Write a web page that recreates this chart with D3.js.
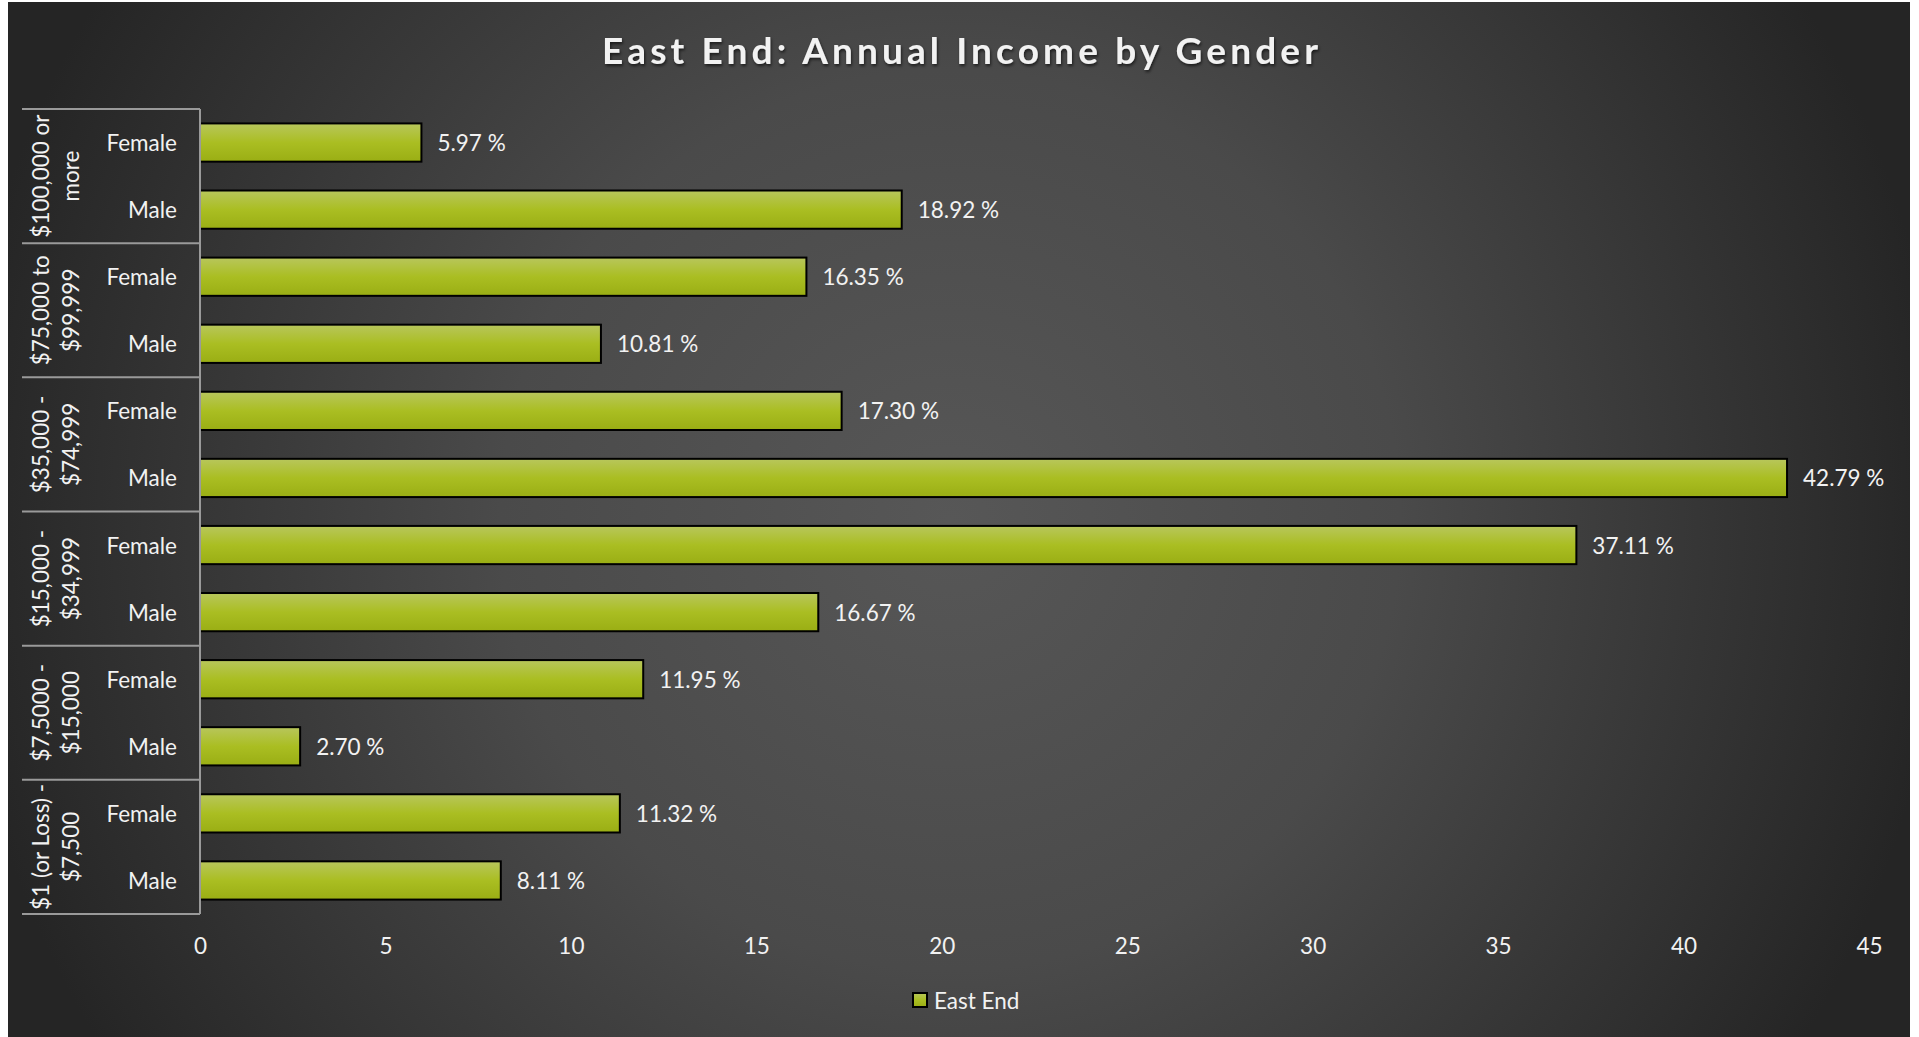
<!doctype html>
<html>
<head>
<meta charset="UTF-8">
<title>East End: Annual Income by Gender</title>
<style>
  html, body { margin: 0; padding: 0; background: #ffffff; }
  svg { display: block; }
</style>
</head>
<body>
<div id="chart"></div>
<script src="https://cdn.jsdelivr.net/npm/d3@7/dist/d3.min.js"></script>
<script>
  // data
  var groupLabels = [
    ["$100,000 or", "more"],
    ["$75,000 to", "$99,999"],
    ["$35,000 -", "$74,999"],
    ["$15,000 -", "$34,999"],
    ["$7,5000 -", "$15,000"],
    ["$1 (or Loss) -", "$7,500"]
  ];
  var genders = ["Female", "Male"];
  var femaleValues = [5.97, 16.35, 17.30, 37.11, 11.95, 11.32];
  var maleValues = [18.92, 10.81, 42.79, 16.67, 2.70, 8.11];
  var xTicks = [0, 5, 10, 15, 20, 25, 30, 35, 40, 45];
  var seriesName = "East End";
  var title = "East End: Annual Income by Gender";

  var W = 1919, H = 1037;
  var font = "Lato, 'Open Sans', sans-serif";
  var textColor = "#f2f2f2";
  var labelSize = 22.5;

  // flatten to one row per bar
  var rows = [];
  groupLabels.forEach(function(g, i) {
    rows.push({ key: i + "-F", group: i, gender: genders[0], value: femaleValues[i] });
    rows.push({ key: i + "-M", group: i, gender: genders[1], value: maleValues[i] });
  });

  var svg = d3.select("#chart").append("svg")
    .attr("width", W)
    .attr("height", H);

  var defs = svg.append("defs");

  var bg = defs.append("radialGradient")
    .attr("id", "bgGrad")
    .attr("gradientUnits", "userSpaceOnUse")
    .attr("cx", 950).attr("cy", 520).attr("r", 1000);
  bg.append("stop").attr("offset", 0).attr("stop-color", "#575757");
  bg.append("stop").attr("offset", 0.45).attr("stop-color", "#4a4a4a");
  bg.append("stop").attr("offset", 1).attr("stop-color", "#252525");

  var barGrad = defs.append("linearGradient")
    .attr("id", "barGrad")
    .attr("x1", 0).attr("y1", 0).attr("x2", 0).attr("y2", 1);
  barGrad.append("stop").attr("offset", 0).attr("stop-color", "#b8c65c");
  barGrad.append("stop").attr("offset", 0.5).attr("stop-color", "#aabe22");
  barGrad.append("stop").attr("offset", 1).attr("stop-color", "#9aae14");

  var shadow = defs.append("filter").attr("id", "titleShadow")
    .attr("x", "-5%").attr("y", "-30%").attr("width", "110%").attr("height", "160%");
  shadow.append("feDropShadow")
    .attr("dx", 1).attr("dy", 2).attr("stdDeviation", 1.5)
    .attr("flood-color", "#000").attr("flood-opacity", 0.6);

  svg.append("rect")
    .attr("x", 8).attr("y", 2)
    .attr("width", 1902).attr("height", H - 2)
    .attr("fill", "url(#bgGrad)");

  // scales
  var x = d3.scaleLinear().domain([0, 45]).range([200, 1869]);
  var y = d3.scaleBand()
    .domain(rows.map(function(d) { return d.key; }))
    .range([109, 914])
    .paddingInner(0.43)
    .paddingOuter(0.215);

  // title
  svg.append("text")
    .attr("x", 602).attr("y", 64)
    .attr("textLength", 716)
    .attr("lengthAdjust", "spacing")
    .attr("font-family", font)
    .attr("font-weight", "bold")
    .attr("font-size", 37)
    .attr("fill", "#f2f2f2")
    .attr("filter", "url(#titleShadow)")
    .text(title);

  // bars
  svg.append("g").selectAll("rect")
    .data(rows)
    .join("rect")
      .attr("x", x(0))
      .attr("y", function(d) { return y(d.key); })
      .attr("width", function(d) { return x(d.value) - x(0); })
      .attr("height", y.bandwidth())
      .attr("fill", "url(#barGrad)")
      .attr("stroke", "#000")
      .attr("stroke-width", 2);

  // data labels
  svg.append("g").selectAll("text")
    .data(rows)
    .join("text")
      .attr("x", function(d) { return x(d.value) + 16; })
      .attr("y", function(d) { return y(d.key) + y.bandwidth() / 2; })
      .attr("dominant-baseline", "central")
      .attr("font-family", font)
      .attr("font-size", labelSize)
      .attr("fill", textColor)
      .text(function(d) { return d3.format(".2f")(d.value) + " %"; });

  // category axis: gender labels
  svg.append("g").selectAll("text")
    .data(rows)
    .join("text")
      .attr("x", 177)
      .attr("y", function(d) { return y(d.key) + y.bandwidth() / 2; })
      .attr("text-anchor", "end")
      .attr("dominant-baseline", "central")
      .attr("font-family", font)
      .attr("font-size", labelSize)
      .attr("fill", textColor)
      .text(function(d) { return d.gender; });

  // group labels, rotated, two lines each
  var top0 = y.range()[0];
  var groupStep = y.step() * 2;
  var gLab = svg.append("g").selectAll("g")
    .data(groupLabels)
    .join("g")
      .attr("transform", function(d, i) {
        return "translate(0," + (top0 + groupStep * (i + 0.5)) + ")";
      });
  gLab.selectAll("text")
    .data(function(d) { return d; })
    .join("text")
      .attr("transform", function(d, j) { return "translate(" + (40 + j * 30) + ",0) rotate(-90)"; })
      .attr("text-anchor", "middle")
      .attr("dominant-baseline", "central")
      .attr("font-family", font)
      .attr("font-size", labelSize)
      .attr("fill", textColor)
      .text(function(d) { return d; });

  // axis lines and group separators
  var lineColor = "#9a9a9a";
  svg.append("g").selectAll("line")
    .data(d3.range(groupLabels.length + 1))
    .join("line")
      .attr("x1", 22).attr("x2", x(0))
      .attr("y1", function(k) { return top0 + k * groupStep; })
      .attr("y2", function(k) { return top0 + k * groupStep; })
      .attr("stroke", lineColor)
      .attr("stroke-width", 2);
  svg.append("line")
    .attr("x1", x(0)).attr("x2", x(0))
    .attr("y1", y.range()[0]).attr("y2", y.range()[1])
    .attr("stroke", lineColor)
    .attr("stroke-width", 2);

  // value axis
  var xAxis = svg.append("g")
    .attr("transform", "translate(0,935)")
    .call(d3.axisBottom(x).tickValues(xTicks).tickSize(0).tickPadding(0).tickFormat(d3.format("d")));
  xAxis.select(".domain").remove();
  xAxis.selectAll("text")
    .attr("dy", null)
    .attr("y", 10)
    .attr("dominant-baseline", "central")
    .attr("font-family", font)
    .attr("font-size", labelSize)
    .attr("fill", textColor);

  // legend
  var legend = svg.append("g").attr("transform", "translate(913,993)");
  legend.append("rect")
    .attr("width", 14).attr("height", 14)
    .attr("fill", "url(#barGrad)")
    .attr("stroke", "#000")
    .attr("stroke-width", 2);
  legend.append("text")
    .attr("x", 21).attr("y", 7)
    .attr("dominant-baseline", "central")
    .attr("font-family", font)
    .attr("font-size", labelSize)
    .attr("fill", textColor)
    .text(seriesName);
</script>
</body>
</html>
